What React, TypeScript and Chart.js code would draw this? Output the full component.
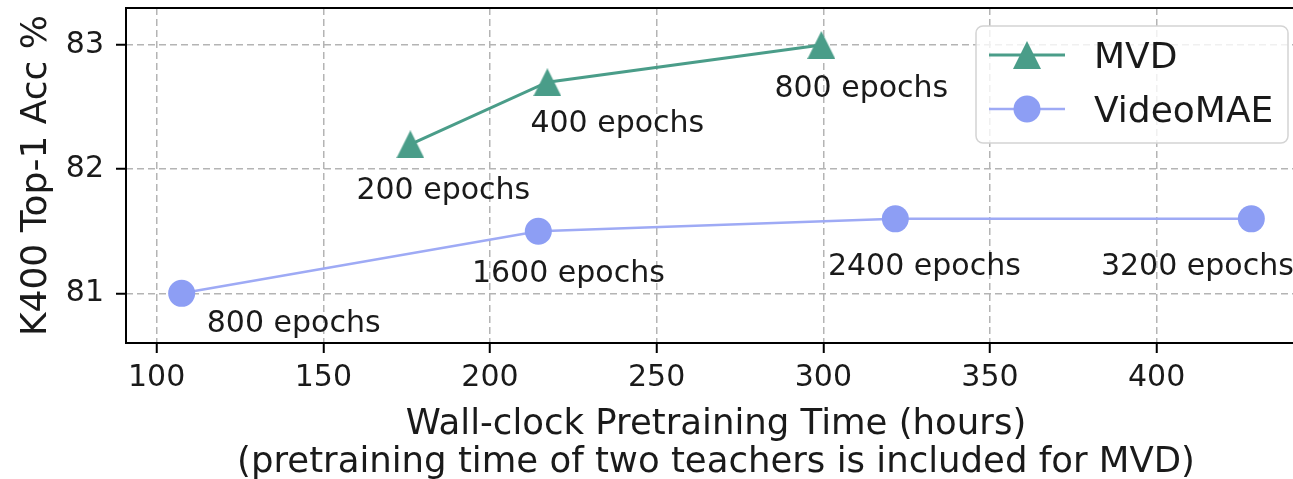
import React, { useEffect, useRef } from 'react';
import { Chart, registerables } from 'chart.js';

Chart.register(...registerables);

// ---------- data ----------
const SERIES_NAMES = ['MVD', 'VideoMAE'];
const MVD_HOURS = [176.1, 217.2, 299.4];
const MVD_ACC = [82.2, 82.7, 83.0];
const MVD_LABELS = ['200 epochs', '400 epochs', '800 epochs'];
const VMAE_HOURS = [107.5, 214.5, 321.6, 428.4];
const VMAE_ACC = [81.0, 81.5, 81.6, 81.6];
const VMAE_LABELS = ['800 epochs', '1600 epochs', '2400 epochs', '3200 epochs'];
const X_TICKS = [100, 150, 200, 250, 300, 350, 400];
const Y_TICKS = [81, 82, 83];
const X_TITLE = ['Wall-clock Pretraining Time (hours)', '(pretraining time of two teachers is included for MVD)'];
const Y_TITLE = 'K400 Top-1 Acc %';

// ---------- styles ----------
const FONT = '"DejaVu Sans", "Liberation Sans", sans-serif';
const TEXT = '#1a1a1a';
const MVD_COLOR = '#4a9d89';
const VMAE_MARKER = '#8d9ef4';
const VMAE_LINE = '#9eaaf5';
const GRID = '#b4b4b4';
const POINT_LABELS = [MVD_LABELS, VMAE_LABELS];
// pixel offsets (text centre x, baseline y) relative to each point
const LABEL_OFFSETS = [
  [[33, 55], [70, 50], [40, 52]],
  [[112, 39], [30, 51], [29, 56], [-54, 56]],
];

function makeTriangle(size: number, color: string) {
  const c = document.createElement('canvas');
  c.width = size;
  c.height = size;
  const g = c.getContext('2d')!;
  g.fillStyle = color;
  g.beginPath();
  g.moveTo(size / 2, 0);
  g.lineTo(size, size);
  g.lineTo(0, size);
  g.closePath();
  g.fill();
  return c;
}

const framePlugin = {
  id: 'frame',
  beforeDatasetsDraw(chart: any) {
    const { ctx, chartArea: a } = chart;
    ctx.save();
    ctx.strokeStyle = '#000';
    ctx.lineWidth = 2;
    ctx.beginPath();
    ctx.moveTo(a.right + 2, a.top);
    ctx.lineTo(a.left, a.top);
    ctx.lineTo(a.left, a.bottom);
    ctx.lineTo(a.right + 2, a.bottom);
    ctx.stroke();
    ctx.restore();
  },
};

const labelPlugin = {
  id: 'pointLabels',
  afterDatasetsDraw(chart: any) {
    const { ctx } = chart;
    const xs = chart.scales.x;
    const ys = chart.scales.y;
    ctx.save();
    ctx.font = `30px ${FONT}`;
    ctx.fillStyle = TEXT;
    ctx.textAlign = 'center';
    ctx.textBaseline = 'alphabetic';
    chart.data.datasets.forEach((ds: any, di: number) => {
      ds.data.forEach((pt: any, i: number) => {
        const [dx, dy] = LABEL_OFFSETS[di][i];
        ctx.fillText(POINT_LABELS[di][i], xs.getPixelForValue(pt.x) + dx, ys.getPixelForValue(pt.y) + dy);
      });
    });
    ctx.restore();
  },
};

const legendPlugin = {
  id: 'customLegend',
  afterDraw(chart: any) {
    const { ctx } = chart;
    const bx = 976, by = 26, bw = 312, bh = 117, br = 7;
    ctx.save();
    ctx.beginPath();
    ctx.moveTo(bx + br, by);
    ctx.arcTo(bx + bw, by, bx + bw, by + bh, br);
    ctx.arcTo(bx + bw, by + bh, bx, by + bh, br);
    ctx.arcTo(bx, by + bh, bx, by, br);
    ctx.arcTo(bx, by, bx + bw, by, br);
    ctx.closePath();
    ctx.fillStyle = 'rgba(255,255,255,0.8)';
    ctx.fill();
    ctx.strokeStyle = '#d4d4d4';
    ctx.lineWidth = 1.5;
    ctx.stroke();
    const rows = [55, 109];
    chart.data.datasets.forEach((ds: any, i: number) => {
      const ry = rows[i];
      ctx.strokeStyle = ds.borderColor;
      ctx.lineWidth = ds.borderWidth;
      ctx.beginPath();
      ctx.moveTo(989, ry);
      ctx.lineTo(1065, ry);
      ctx.stroke();
      const ps = ds.pointStyle;
      if (typeof ps === 'object' && ps) {
        ctx.drawImage(ps, 1027 - ps.width / 2, ry - ps.height / 2);
      } else {
        ctx.fillStyle = ds.pointBackgroundColor;
        ctx.beginPath();
        ctx.arc(1027, ry, ds.pointRadius, 0, Math.PI * 2);
        ctx.fill();
      }
      ctx.fillStyle = TEXT;
      ctx.font = `36px ${FONT}`;
      ctx.textAlign = 'left';
      ctx.textBaseline = 'alphabetic';
      ctx.fillText(ds.label, 1094, ry + 13);
    });
    ctx.restore();
  },
};

const gridOpts = {
  color: GRID,
  lineWidth: 1.5,
  tickColor: '#000',
  tickWidth: 2,
  tickLength: 10,
  tickBorderDash: [],
};

export default function App() {
  const ref = useRef<HTMLCanvasElement | null>(null);

  useEffect(() => {
    if (!ref.current) return;
    const tri = makeTriangle(28, MVD_COLOR);
    const chart = new Chart(ref.current, {
      type: 'line',
      data: {
        datasets: [
          {
            label: SERIES_NAMES[0],
            data: MVD_HOURS.map((h, i) => ({ x: h, y: MVD_ACC[i] })),
            borderColor: MVD_COLOR,
            backgroundColor: MVD_COLOR,
            pointBackgroundColor: MVD_COLOR,
            pointBorderColor: MVD_COLOR,
            pointBorderWidth: 0,
            borderWidth: 3,
            pointStyle: tri,
            pointRadius: 14,
            tension: 0,
          },
          {
            label: SERIES_NAMES[1],
            data: VMAE_HOURS.map((h, i) => ({ x: h, y: VMAE_ACC[i] })),
            borderColor: VMAE_LINE,
            backgroundColor: VMAE_MARKER,
            pointBackgroundColor: VMAE_MARKER,
            pointBorderColor: VMAE_MARKER,
            pointBorderWidth: 0,
            borderWidth: 2.5,
            pointStyle: 'circle',
            pointRadius: 13.5,
            tension: 0,
          },
        ],
      },
      options: {
        responsive: false,
        animation: false,
        devicePixelRatio: 1,
        layout: { autoPadding: false, padding: { top: 8, right: 4, left: 0, bottom: 0 } },
        plugins: { legend: { display: false }, tooltip: { enabled: false } },
        scales: {
          x: {
            type: 'linear',
            min: 90.8,
            max: 444.8,
            afterBuildTicks: (s: any) => {
              s.ticks = X_TICKS.map((v) => ({ value: v }));
            },
            afterFit: (s: any) => {
              s.height = 136;
              s.paddingLeft = 0;
              s.paddingRight = 0;
            },
            border: { display: false, dash: [7, 4] },
            grid: gridOpts,
            ticks: {
              padding: 7,
              color: TEXT,
              font: { family: FONT, size: 30 },
              maxRotation: 0,
              callback: (v: any) => String(v),
            },
            title: {
              display: true,
              text: X_TITLE,
              color: TEXT,
              font: { family: FONT, size: 35.5, lineHeight: 38 / 35.5 },
              padding: { top: 0, bottom: -3 },
            },
          },
          y: {
            type: 'linear',
            min: 80.6,
            max: 83.298,
            afterBuildTicks: (s: any) => {
              s.ticks = Y_TICKS.map((v) => ({ value: v }));
            },
            afterFit: (s: any) => {
              s.width = 126;
              s.paddingTop = 0;
              s.paddingBottom = 0;
            },
            border: { display: false, dash: [7, 4] },
            grid: gridOpts,
            ticks: {
              padding: 12,
              color: TEXT,
              font: { family: FONT, size: 30 },
              callback: (v: any) => String(v),
            },
            title: {
              display: true,
              text: Y_TITLE,
              color: TEXT,
              font: { family: FONT, size: 36, lineHeight: 1.2 },
              padding: { top: 15, bottom: 0 },
            },
          },
        },
      } as any,
      plugins: [framePlugin, labelPlugin, legendPlugin],
    });
    return () => chart.destroy();
  }, []);

  return (
    <div style={{ position: 'fixed', left: 0, top: 0, width: 1293, height: 479, overflow: 'hidden', background: '#fff' }}>
      <canvas ref={ref} width={1310} height={479} style={{ display: 'block', width: 1310, height: 479 }} />
    </div>
  );
}
